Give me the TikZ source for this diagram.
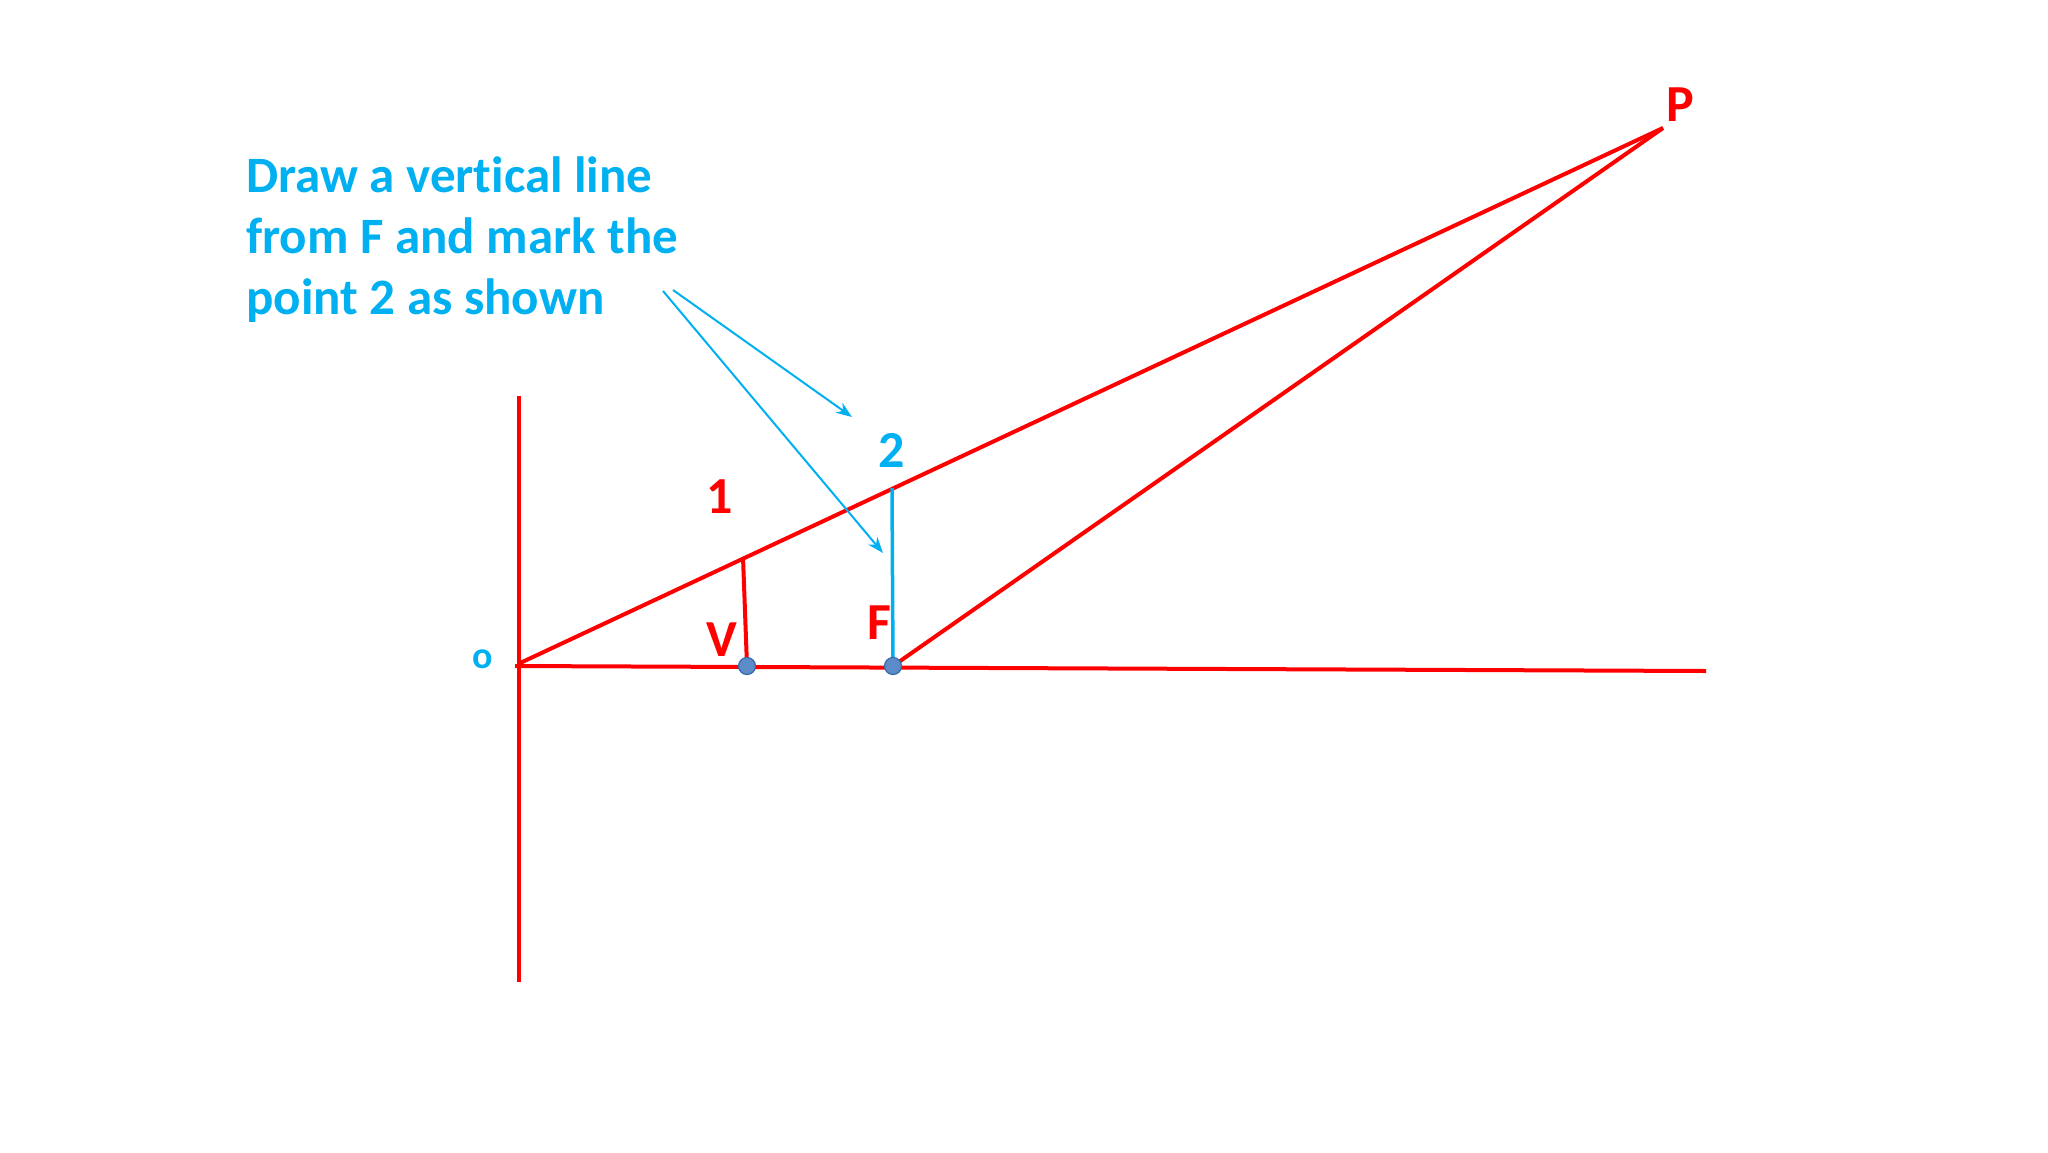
\documentclass[tikz,border=0pt]{standalone}
\usepackage{fontspec}
\setmainfont{Carlito}[Ligatures=CommonOff]
\usetikzlibrary{arrows.meta}
\definecolor{pred}{HTML}{FF0000}
\definecolor{pblue}{HTML}{00B0F0}
\definecolor{dotblue}{HTML}{5B8BC9}
\definecolor{dotedge}{HTML}{3A6AA8}
\tikzset{
  redline/.style={draw=pred, line width=4pt},
  blueline/.style={draw=pblue, line width=3.5pt},
  pointer/.style={draw=pblue, line width=2pt, -{Stealth[length=16pt,width=12pt]}},
  dotmark/.style={circle, fill=dotblue, draw=dotedge, line width=1.2pt, minimum size=17pt, inner sep=0pt},
  redlabel/.style={text=pred, font=\fontsize{52}{61}\selectfont\bfseries, inner sep=0pt},
  bluelabel/.style={text=pblue, font=\fontsize{52}{61}\selectfont\bfseries, inner sep=0pt},
  note/.style={text=pblue, font=\fontsize{51}{61}\selectfont\bfseries, inner sep=0pt, anchor=base west}
}
\begin{document}
\begin{tikzpicture}[x=1pt, y=-1pt]
\useasboundingbox (0,0) rectangle (2048,1152);
% key points
\coordinate (O) at (518,664);
\coordinate (AxTop) at (519,396);
\coordinate (AxBot) at (519,982);
\coordinate (HStart) at (515,666);
\coordinate (HEnd) at (1706,671);
\coordinate (P) at (1663,128);
\coordinate (Vp) at (747,666);
\coordinate (Fp) at (893,666);
\coordinate (p1) at (743,557);
\coordinate (p2) at (892,488);
% axes
\draw[redline] (AxTop) -- (AxBot);
\draw[redline] (HStart) -- (HEnd);
% construction lines
\draw[redline] (O) -- (P);
\draw[redline] (Fp) -- (P);
\draw[redline] (p1) -- (Vp);
\draw[blueline] (Fp) -- (p2);
% dots
\node[dotmark] (V) at (Vp) {};
\node[dotmark] (F) at (Fp) {};
% labels
\node[redlabel] (lP) at (1680,105) {P};
\node[redlabel] (l1) at (720,497) {1};
\node[bluelabel] (l2) at (892,450) {2};
\node[redlabel] (lV) at (722,640) {V};
\node[redlabel] (lF) at (879,623) {F};
\node[text=pblue, font=\fontsize{38}{46}\selectfont\bfseries, inner sep=0pt] (lo) at (483,659) {o};
% note text
\node[note] (t1) at (246,192) {Draw a vertical line};
\node[note] (t2) at (246,253) {from F and mark the};
\node[note] (t3) at (246,314) {point 2 as shown};
% pointers
\coordinate (a1) at (673,290);
\coordinate (a2) at (663,291);
\coordinate (tip1) at (852,417);
\coordinate (tip2) at (883,553);
\draw[pointer] (a1) -- (tip1);
\draw[pointer] (a2) -- (tip2);
\end{tikzpicture}
\end{document}
